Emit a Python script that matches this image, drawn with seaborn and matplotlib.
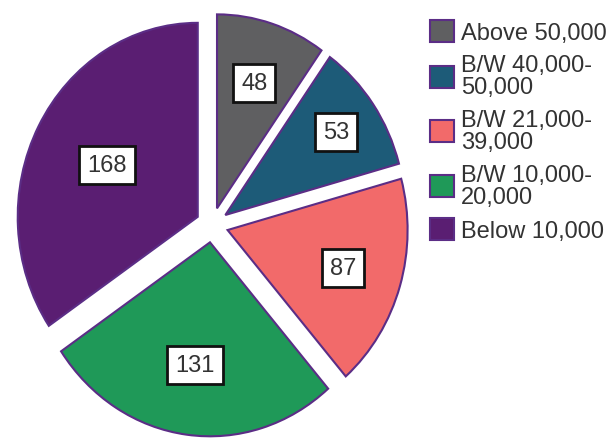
import matplotlib
matplotlib.use("Agg")
import matplotlib.pyplot as plt
import seaborn as sns
import numpy as np

categories = ["Above 50,000", "B/W 40,000-\n50,000", "B/W 21,000-\n39,000",
              "B/W 10,000-\n20,000", "Below 10,000"]
counts = [48, 53, 87, 131, 168]
colors = ["#5f5f61", "#1d5b78", "#f26a6a", "#1f9958", "#5a1e72"]

# layout (not data)
label_r = [0.68, 0.75, 0.67, 0.64, 0.57]

sns.set_theme(style="white")
plt.rcParams["font.family"] = ["Liberation Sans", "DejaVu Sans"]

fig = plt.figure(figsize=(6.11, 4.39), dpi=100)
ax = fig.add_axes([0, 0, 1, 1])
wedges, _ = ax.pie(counts, colors=colors, startangle=90, counterclock=False,
                   explode=[0.09] * len(counts),
                   wedgeprops=dict(edgecolor="#5b2d86", linewidth=1.5))
ax.set_aspect("auto")
ax.set_xlim(-1.178, 2.216)
ax.set_ylim(-1.098, 1.165)
ax.axis("off")

for w, v, r in zip(wedges, counts, label_r):
    th = np.deg2rad((w.theta1 + w.theta2) / 2)
    cx, cy = w.center
    ax.text(cx + r * np.cos(th), cy + r * np.sin(th), str(v),
            ha="center", va="center", fontsize=17, color="#333333",
            bbox=dict(boxstyle="square,pad=0.34", fc="white", ec="#111111", lw=2))

leg = fig.legend(wedges, categories, loc="upper left",
                 bbox_to_anchor=(0.704, 0.953), frameon=False, fontsize=17,
                 borderpad=0, borderaxespad=0, handlelength=1.0,
                 handleheight=1.05, handletextpad=0.3, labelspacing=0.45)
for t in leg.get_texts():
    t.set_linespacing(1.0)
    t.set_color("#333333")

fig.savefig("out.png", dpi=100, facecolor="white")
